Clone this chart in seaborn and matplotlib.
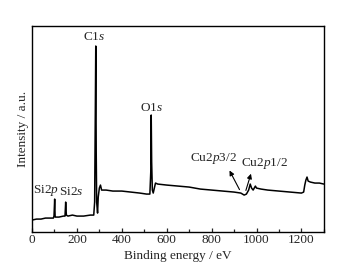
import matplotlib
matplotlib.use("Agg")
import matplotlib.pyplot as plt
import seaborn as sns
import pandas as pd
from matplotlib.ticker import MultipleLocator

sns.set_theme(style="ticks")
plt.rcParams['font.family'] = ['Liberation Serif', 'DejaVu Serif']
plt.rcParams['mathtext.fontset'] = 'custom'
plt.rcParams['mathtext.rm'] = 'Liberation Serif'
plt.rcParams['mathtext.it'] = 'Liberation Serif:italic'

energy = [0, 20, 40, 60, 80, 95, 98, 101, 103, 106, 120, 140, 147, 150, 153, 160, 180, 200,
          230, 260, 275, 279, 282, 284, 286, 288, 292, 295, 300, 305, 310, 330, 360, 400,
          440, 480, 510, 525, 529, 531, 533, 536, 540, 545, 550, 560, 600, 650, 700, 750,
          800, 850, 900, 930, 945, 955, 965, 972, 978, 985, 995, 1000, 1020, 1050, 1100,
          1150, 1200, 1210, 1215, 1220, 1225, 1230, 1240, 1260, 1280, 1300]
intensity = [12, 13, 13, 14, 14, 14, 16, 33, 15, 15, 15, 16, 16, 30, 17, 16, 17, 16,
             16, 17, 17, 30, 120, 186, 80, 30, 19, 35, 44, 47, 42, 42, 41, 41,
             40, 39, 38, 38, 60, 117, 70, 42, 39, 44, 49, 48, 47, 46, 45, 43,
             42, 41, 40, 39, 37, 38, 42, 48, 44, 42, 46, 44, 43, 42, 41,
             40, 39, 40, 47, 52, 55, 51, 50, 49, 49, 48]

labels = ["Si2$\\it{p}$", "Si2$\\it{s}$", "C1$\\it{s}$", "O1$\\it{s}$", "Cu2$\\it{p}$3/2", "Cu2$\\it{p}$1/2"]
label_x = [64, 176, 275, 533, 806, 1034]
label_y = [42, 40, 195, 124, 74, 69]

df = pd.DataFrame({"energy": energy, "intensity": intensity})

fig = plt.figure(figsize=(3.46, 2.68), dpi=100)
ax = fig.add_axes([0.0925, 0.134, 0.8435, 0.769])
sns.lineplot(data=df, x="energy", y="intensity", ax=ax, color="black", linewidth=1.1)

ax.set_xlim(0, 1300)
ax.set_ylim(0, 206)
ax.xaxis.set_major_locator(MultipleLocator(200))
ax.xaxis.set_minor_locator(MultipleLocator(100))
ax.set_yticks([])
ax.tick_params(axis='x', which='both', direction='in', labelsize=9.5, pad=1.5)
ax.tick_params(axis='x', which='major', length=3, width=0.9)
ax.tick_params(axis='x', which='minor', length=2, width=0.9)
for s in ax.spines.values():
    s.set_linewidth(1.0)
    s.set_color("black")
ax.set_xlabel("Binding energy / eV", fontsize=9.5, labelpad=2.5)
ax.set_ylabel("Intensity / a.u.", fontsize=9.5, labelpad=2)

for t, x, y in zip(labels, label_x, label_y):
    ax.text(x, y, t, ha="center", va="center", fontsize=9.5)

ax.annotate("", xy=(874, 64), xytext=(930, 40),
            arrowprops=dict(arrowstyle="-|>", color="black", lw=0.8, mutation_scale=7))
ax.annotate("", xy=(979, 61), xytext=(949, 39),
            arrowprops=dict(arrowstyle="-|>", color="black", lw=0.8, mutation_scale=7))

fig.savefig("out.png", dpi=100)
